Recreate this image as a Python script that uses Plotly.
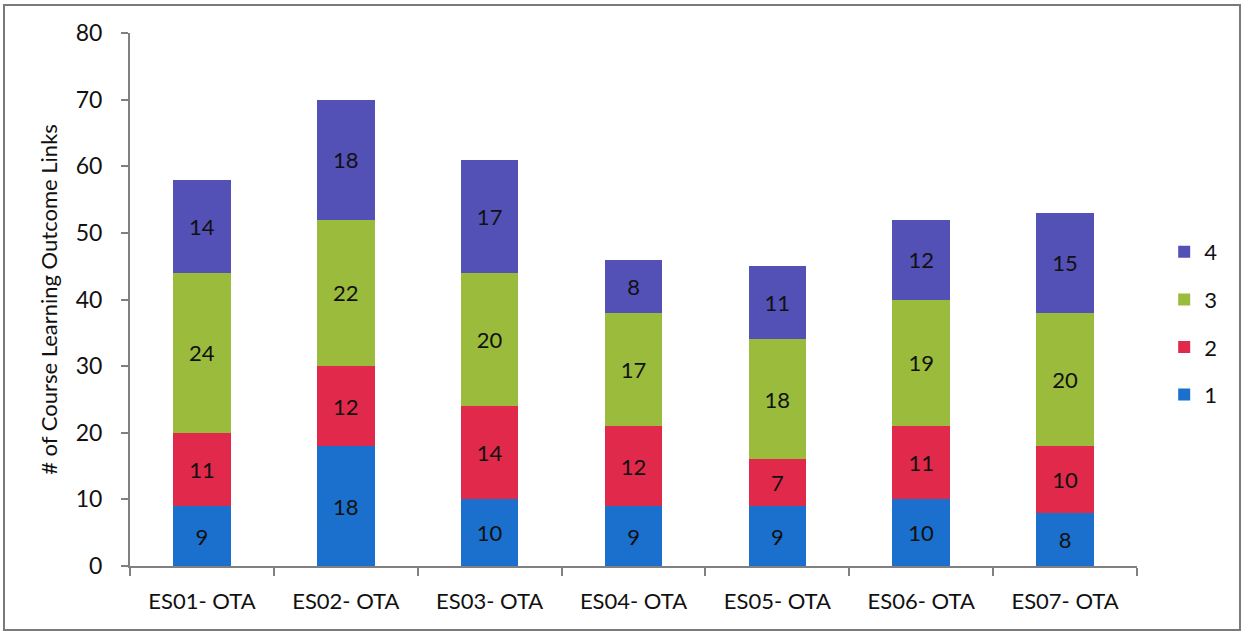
import plotly.graph_objects as go

categories = ["ES01- OTA", "ES02- OTA", "ES03- OTA", "ES04- OTA", "ES05- OTA", "ES06- OTA", "ES07- OTA"]
level_1 = [9, 18, 10, 9, 9, 10, 8]
level_2 = [11, 12, 14, 12, 7, 11, 10]
level_3 = [24, 22, 20, 17, 18, 19, 20]
level_4 = [14, 18, 17, 8, 11, 12, 15]
y_ticks = [0, 10, 20, 30, 40, 50, 60, 70, 80]

series = [
    ("1", level_1, "#1a70cc"),
    ("2", level_2, "#e0294b"),
    ("3", level_3, "#9abb3c"),
    ("4", level_4, "#5350b6"),
]

FONT = "Lato, Open Sans, sans-serif"

fig = go.Figure()
for i, (name, vals, color) in enumerate(series):
    fig.add_trace(go.Bar(
        name=name,
        x=categories,
        y=vals,
        marker=dict(color=color, line=dict(width=0)),
        text=[str(v) for v in vals],
        textposition="inside",
        insidetextanchor="middle",
        textangle=0,
        constraintext="none",
        textfont=dict(family=FONT, size=22, color="#111111"),
        legendgroup=name,
        legendrank=len(series) - i,
    ))

W, H = 1246, 635
ml, mr, mt, mb = 130, 109, 33, 69
pw, ph = W - ml - mr, H - mt - mb

fig.update_layout(
    width=W, height=H,
    barmode="stack",
    bargap=0.6,
    margin=dict(l=ml, r=mr, t=mt, b=mb),
    paper_bgcolor="white",
    plot_bgcolor="white",
    font=dict(family=FONT, color="#111111"),
    showlegend=True,
    legend=dict(
        x=1.027, xanchor="left", y=0.455, yanchor="middle",
        traceorder="grouped",
        tracegroupgap=16,
        font=dict(family=FONT, size=22, color="#111111"),
        bgcolor="rgba(0,0,0,0)",
    ),
    xaxis=dict(
        showline=True, linecolor="#808080", linewidth=2,
        ticks="outside", ticklen=8, tickcolor="#808080", tickwidth=2,
        tickson="boundaries",
        ticklabelstandoff=15,
        tickfont=dict(family=FONT, size=22, color="#111111"),
        showgrid=False,
    ),
    yaxis=dict(
        range=[0, 80],
        tickvals=y_ticks,
        showline=True, linecolor="#808080", linewidth=2,
        ticks="outside", ticklen=7, tickcolor="#808080", tickwidth=2,
        ticklabelstandoff=14,
        tickfont=dict(family=FONT, size=23, color="#111111"),
        showgrid=False, zeroline=False,
        title=dict(text="# of Course Learning Outcome Links",
                   font=dict(family=FONT, size=22, color="#111111"),
                   standoff=12),
    ),
    shapes=[dict(
        type="rect", xref="paper", yref="paper",
        x0=(4 - ml) / pw, x1=(1240 - ml) / pw,
        y0=(H - mb - 630) / ph, y1=(H - mb - 5) / ph,
        line=dict(color="#7a7a7a", width=2),
        fillcolor="rgba(0,0,0,0)", layer="below",
    )],
)

fig.write_html("out.html")
